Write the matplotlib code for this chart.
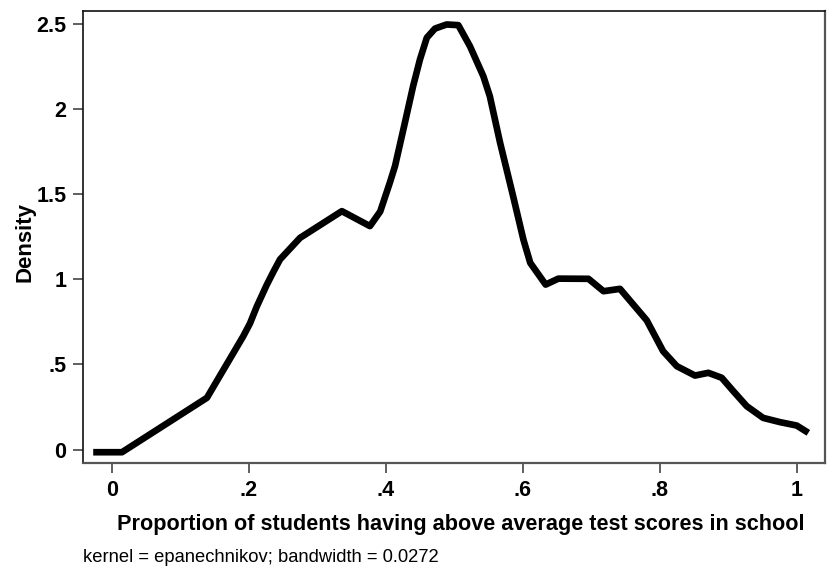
import matplotlib
matplotlib.use("Agg")
import matplotlib.pyplot as plt

# Kernel density curve
prop = [-0.027, 0.015, 0.139, 0.192, 0.2019, 0.2117, 0.2263, 0.236, 0.2457, 0.275,
        0.336, 0.377, 0.392, 0.406, 0.4136, 0.428, 0.440, 0.450, 0.460, 0.472,
        0.489, 0.506, 0.523, 0.5425, 0.552, 0.567, 0.586, 0.601, 0.611, 0.6335,
        0.652, 0.696, 0.718, 0.742, 0.781, 0.805, 0.825, 0.8515, 0.871, 0.8905,
        0.9075, 0.927, 0.951, 0.9756, 1.0, 1.017]
density = [-0.016, -0.016, 0.304, 0.666, 0.742, 0.840, 0.968, 1.045, 1.118, 1.245,
           1.402, 1.314, 1.40, 1.569, 1.667, 1.922, 2.137, 2.294, 2.422, 2.476,
           2.50, 2.496, 2.372, 2.196, 2.078, 1.804, 1.49, 1.235, 1.098, 0.97,
           1.005, 1.004, 0.931, 0.945, 0.76, 0.578, 0.49, 0.435, 0.451, 0.422,
           0.343, 0.255, 0.186, 0.161, 0.141, 0.098]

xticks = [0, 0.2, 0.4, 0.6, 0.8, 1.0]
xticklabels = ["0", ".2", ".4", ".6", ".8", "1"]
yticks = [0, 0.5, 1, 1.5, 2, 2.5]
yticklabels = ["0", ".5", "1", "1.5", "2", "2.5"]

xlabel = "Proportion of students having above average test scores in school"
ylabel = "Density"
note = "kernel = epanechnikov; bandwidth = 0.0272"

plt.rcParams['font.family'] = ['Liberation Sans', 'DejaVu Sans']

W, H = 828, 572
fig = plt.figure(figsize=(W / 100, H / 100), dpi=100)
fig.patch.set_facecolor('white')
ax = fig.add_axes([83 / W, 1 - 463 / H, (825 - 83) / W, (463 - 10.7) / H])

ax.plot(prop, density, color='black', lw=4.8, solid_joinstyle='round', solid_capstyle='butt')

ax.set_xlim(-0.0419, 1.0413)
ax.set_ylim(-0.0794, 2.581)

ax.set_xticks(xticks)
ax.set_xticklabels(xticklabels)
ax.set_yticks(yticks)
ax.set_yticklabels(yticklabels)

ax.tick_params(axis='both', direction='out', length=7, width=1.2, color='#444444',
               labelsize=15.5, labelcolor='black')
ax.tick_params(axis='y', pad=5)
ax.tick_params(axis='x', pad=5)
for lab in ax.get_xticklabels() + ax.get_yticklabels():
    lab.set_fontweight('bold')

for side in ['top', 'left']:
    ax.spines[side].set_color('#111111')
    ax.spines[side].set_linewidth(1.2)
for side in ['bottom', 'right']:
    ax.spines[side].set_color('#555555')
    ax.spines[side].set_linewidth(1.6)

fig.text(461 / W, 1 - 530 / H, xlabel, ha='center', va='baseline',
         fontsize=15.6, fontweight='bold')
fig.text(25 / W, 1 - 242 / H, ylabel, ha='center', va='center', rotation=90,
         fontsize=16, fontweight='bold')
fig.text(83 / W, 1 - 561.5 / H, note, ha='left', va='baseline', fontsize=13.2)

fig.savefig('out.png', dpi=100)
